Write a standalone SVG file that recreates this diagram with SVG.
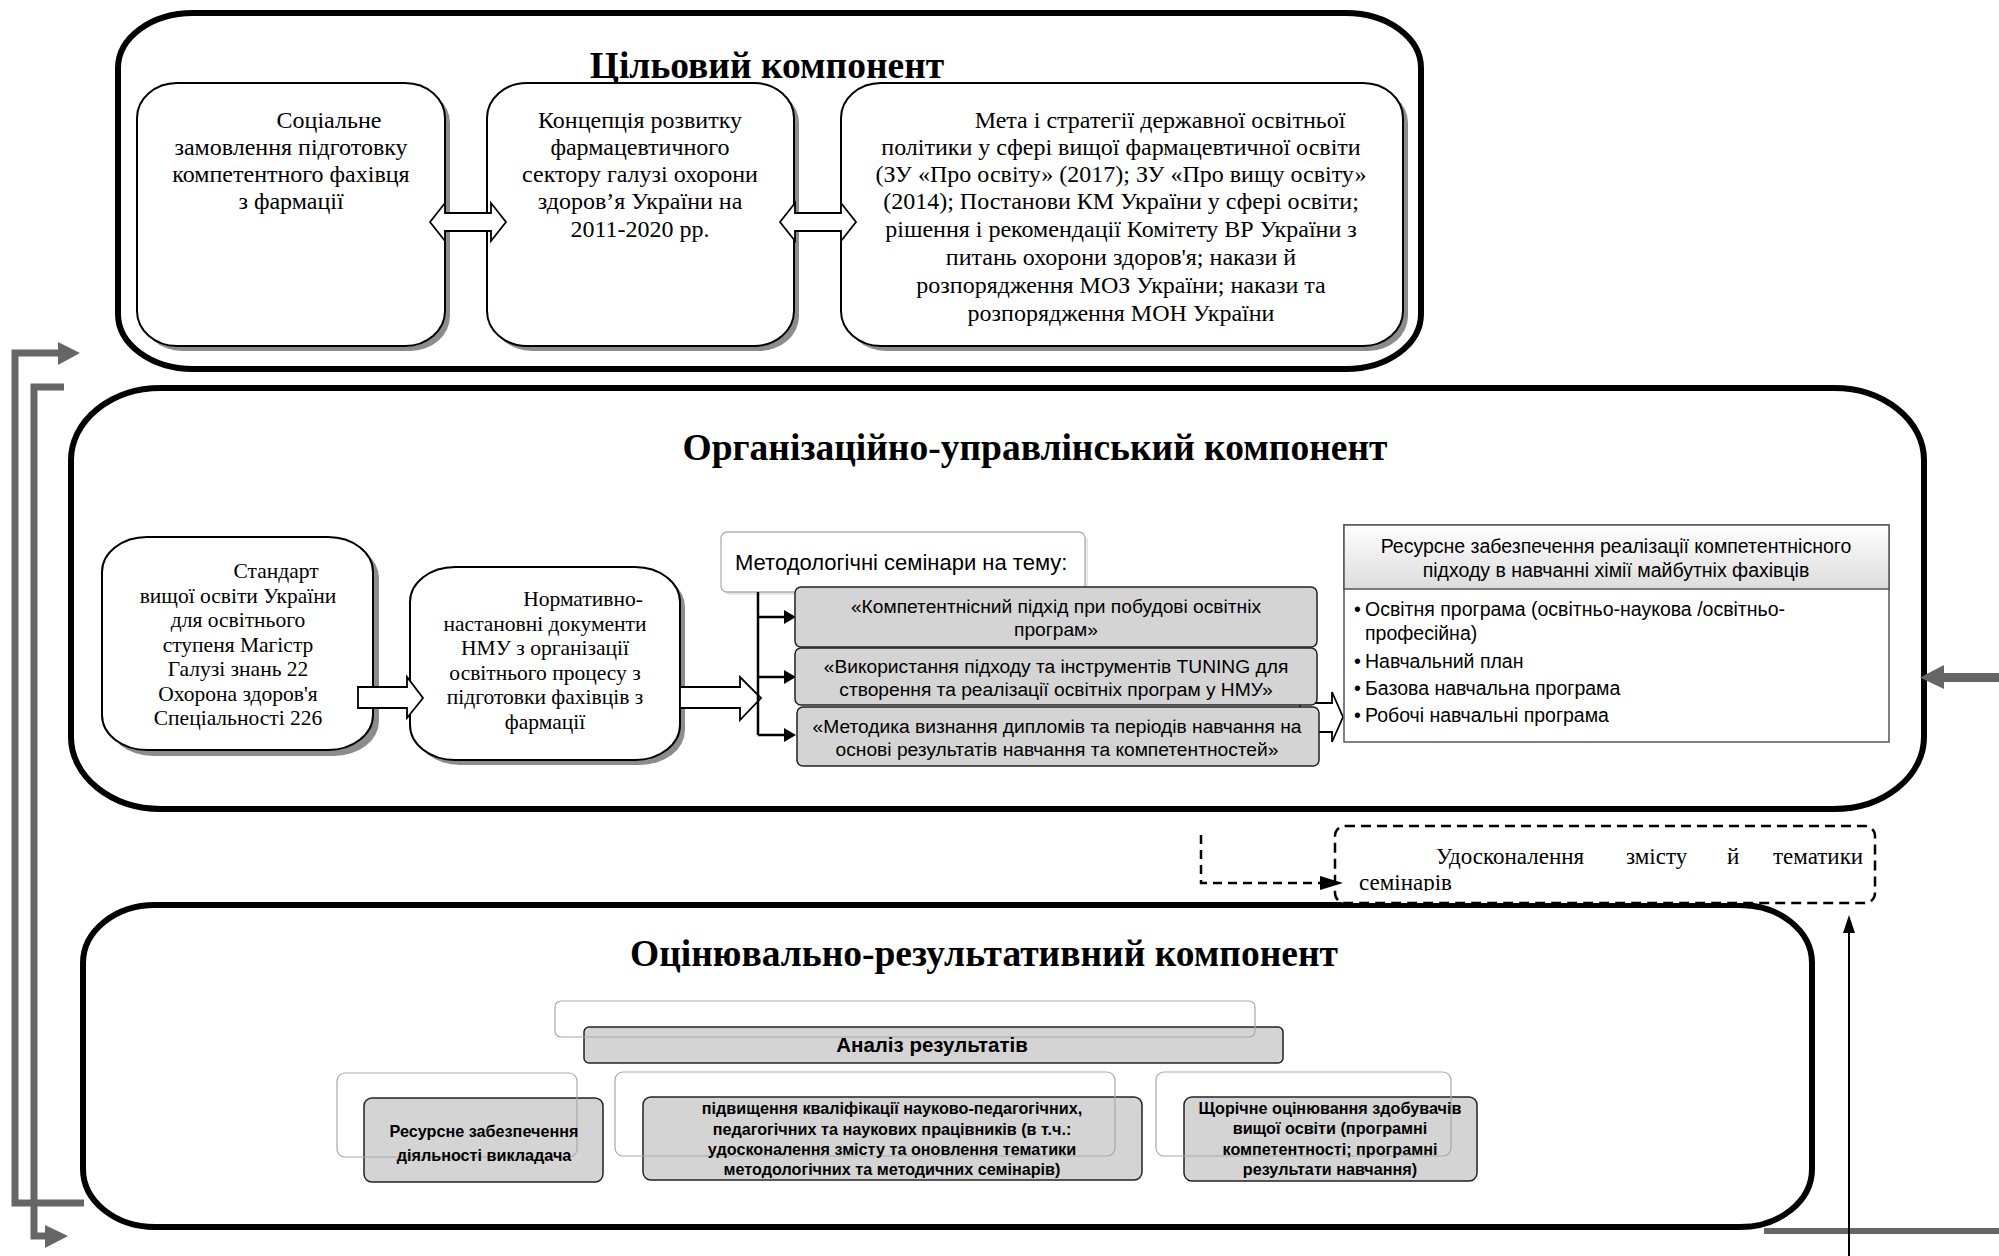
<svg xmlns="http://www.w3.org/2000/svg" width="1999" height="1256" viewBox="0 0 1999 1256">
<defs>
<style>
.big{fill:#fff;stroke:#000;stroke-width:6}
.node{fill:#fff;stroke:#000;stroke-width:2}
.shadow{fill:#8c8c8c}
.serif{font-family:"Liberation Serif","Times New Roman",serif;fill:#000}
.t23{font-size:24px}
.t21{font-size:21.5px}
.title{font-family:"Liberation Serif","Times New Roman",serif;font-weight:bold;font-size:37.5px;text-anchor:middle;fill:#000}
.sans{font-family:"Liberation Sans",Arial,sans-serif;fill:#000}
.s18{font-size:19.2px}
.s195{font-size:19.5px}
.s22{font-size:22px}
.b15{font-size:16.2px;font-weight:bold}
.b18{font-size:20.5px;font-weight:bold}
.mid{text-anchor:middle}
.gray{fill:#d4d4d4;stroke:#222;stroke-width:1.5}
.ghost{fill:none;stroke:#a8a8a8;stroke-width:1.2}
.blk{fill:#fff;stroke:#000;stroke-width:1.8;stroke-linejoin:miter}
.gline{fill:none;stroke:#666;stroke-width:7}
.ghead{fill:#666}
.line{fill:none;stroke:#000;stroke-width:2.5}
.dash{fill:none;stroke:#000;stroke-width:2.5;stroke-dasharray:9 6}
</style>
<linearGradient id="hdr" x1="0" y1="0" x2="0" y2="1">
<stop offset="0" stop-color="#ffffff"/>
<stop offset="1" stop-color="#dcdcdc"/>
</linearGradient>
<clipPath id="clipSem"><rect x="1330" y="820" width="560" height="71"/></clipPath>
</defs>

<!-- Target component -->
<g id="target-component">
<rect class="big" x="118" y="13" width="1303" height="356" rx="75" ry="55"/>
<text class="title" x="767" y="78">Цільовий компонент</text>
</g>

<g id="node-social-order">
<rect class="shadow" x="142" y="88" width="308" height="263" rx="40" ry="35"/>
<rect class="node" x="137" y="83" width="308" height="263" rx="40" ry="35"/>
<text class="serif t23 mid" x="291"><tspan x="329" y="128">Соціальне</tspan><tspan x="291" y="155">замовлення підготовку</tspan><tspan x="291" y="182">компетентного фахівця</tspan><tspan x="291" y="209">з фармації</tspan></text>
</g>

<g id="node-concept">
<rect class="shadow" x="492" y="88" width="307" height="263" rx="40" ry="35"/>
<rect class="node" x="487" y="83" width="307" height="263" rx="40" ry="35"/>
<text class="serif t23 mid" x="640"><tspan x="640" y="128">Концепція розвитку</tspan><tspan x="640" y="155">фармацевтичного</tspan><tspan x="640" y="182">сектору галузі охорони</tspan><tspan x="640" y="209">здоров’я України на</tspan><tspan x="640" y="237">2011-2020 рр.</tspan></text>
</g>

<g id="node-policy">
<rect class="shadow" x="846" y="88" width="562" height="263" rx="40" ry="35"/>
<rect class="node" x="841" y="83" width="562" height="263" rx="40" ry="35"/>
<text class="serif t23 mid" x="1121"><tspan x="1160" y="128">Мета і стратегії державної освітньої</tspan><tspan x="1121" y="155">політики у сфері вищої фармацевтичної освіти</tspan><tspan x="1121" y="182">(ЗУ «Про освіту» (2017); ЗУ «Про вищу освіту»</tspan><tspan x="1121" y="209">(2014); Постанови КМ України у сфері освіти;</tspan><tspan x="1121" y="237">рішення і рекомендації Комітету ВР України з</tspan><tspan x="1121" y="265">питань охорони здоров'я; накази й</tspan><tspan x="1121" y="293">розпорядження МОЗ України; накази та</tspan><tspan x="1121" y="321">розпорядження МОН України</tspan></text>
</g>

<!-- Organisational component -->
<g id="org-component">
<rect class="big" x="71" y="388" width="1853" height="421" rx="90" ry="72"/>
<text class="title" x="1035" y="460">Організаційно-управлінський компонент</text>
</g>

<g id="node-standard">
<rect class="shadow" x="108" y="543" width="271" height="213" rx="45" ry="35"/>
<rect class="node" x="102" y="537" width="271" height="213" rx="45" ry="35"/>
<text class="serif t21 mid" x="238"><tspan x="276" y="578">Стандарт</tspan><tspan x="238" y="602.5">вищої освіти України</tspan><tspan x="238" y="627">для освітнього</tspan><tspan x="238" y="651.5">ступеня Магістр</tspan><tspan x="238" y="676">Галузі знань 22</tspan><tspan x="238" y="700.5">Охорона здоров'я</tspan><tspan x="238" y="725">Спеціальності 226</tspan></text>
</g>

<g id="node-normative">
<rect class="shadow" x="415" y="572" width="270" height="193" rx="45" ry="35"/>
<rect class="node" x="410" y="567" width="270" height="193" rx="45" ry="35"/>
<text class="serif t21 mid" x="545"><tspan x="583" y="606">Нормативно-</tspan><tspan x="545" y="630.5">настановні документи</tspan><tspan x="545" y="655">НМУ з організації</tspan><tspan x="545" y="679.5">освітнього процесу з</tspan><tspan x="545" y="704">підготовки фахівців з</tspan><tspan x="545" y="728.5">фармації</tspan></text>
</g>

<g id="node-seminars-header">
<rect x="724" y="535" width="364" height="60" rx="6" fill="#e6e6e6"/>
<rect x="721" y="532" width="364" height="60" rx="6" fill="#fff" stroke="#b0b0b0" stroke-width="1.3"/>
<text class="sans s22" x="735" y="570">Методологічні семінари на тему:</text>
</g>

<!-- connectors -->
<g id="connectors">
<polygon class="blk" points="430,222 445,203 445,213 491,213 491,203 506,222 491,241 491,231 445,231 445,241"/>
<polygon class="blk" points="780,222 795,203 795,213 841,213 841,203 856,222 841,241 841,231 795,231 795,241"/>
<polygon class="blk" points="358,687 407,687 407,677 423,698 407,718 407,708 358,708"/>
<polygon class="blk" points="680,687 740,687 740,677 761,698 740,720 740,708 680,708"/>
<polygon class="blk" points="1300,703 1332,703 1332,692 1343,717 1332,742 1332,732 1300,732"/>
<path class="line" d="M758 592 V735 M758 617 H785 M758 677 H785 M758 735 H785" stroke-width="2.2"/>
<polygon points="784,610 796,617 784,624" fill="#000"/>
<polygon points="784,670 796,677 784,684" fill="#000"/>
<polygon points="784,728 796,735 784,742" fill="#000"/>
<path class="gline" d="M84 1203 H15 V353 H60"/>
<polygon class="ghead" points="58,342 80,353 58,365"/>
<path class="gline" d="M64 387 H34 V1236 H47"/>
<polygon class="ghead" points="45,1225 68,1236 45,1248"/>
<path d="M1999 677.5 H1940" stroke="#666" stroke-width="9" fill="none"/>
<polygon class="ghead" points="1944,665 1920,677.5 1944,689"/>
<path d="M1764 1231 H1999" stroke="#666" stroke-width="6" fill="none"/>
<path d="M1849 1256 V930" stroke="#000" stroke-width="2" fill="none"/>
<polygon points="1843,933 1849,915 1855,933" fill="#000"/>
<path class="line" d="M584 1052 H456 V1073 M865 1063 V1073 M1283 1050 H1304 V1072"/>
</g>

<g id="node-seminar-1">
<rect class="gray" x="795" y="587" width="522" height="60" rx="6"/>
<text class="sans s18 mid"><tspan x="1056" y="613">«Компетентнісний підхід при побудові освітніх</tspan><tspan x="1056" y="636">програм»</tspan></text>
</g>
<g id="node-seminar-2">
<rect class="gray" x="795" y="648" width="522" height="57" rx="6"/>
<text class="sans s18 mid"><tspan x="1056" y="673">«Використання підходу та інструментів TUNING для</tspan><tspan x="1056" y="696">створення та реалізації освітніх програм у НМУ»</tspan></text>
</g>
<g id="node-seminar-3">
<rect class="gray" x="797" y="707" width="522" height="59" rx="6"/>
<text class="sans s18 mid"><tspan x="1057" y="733">«Методика визнання дипломів та періодів навчання на</tspan><tspan x="1057" y="756">основі результатів навчання та компетентностей»</tspan></text>
</g>

<g id="node-resources">
<rect x="1344" y="525" width="545" height="217" fill="#fff" stroke="#555" stroke-width="1.5"/>
<rect x="1344" y="525" width="545" height="64" fill="url(#hdr)" stroke="#555" stroke-width="1.5"/>
<text class="sans s195 mid"><tspan x="1616" y="553">Ресурсне забезпечення реалізації компетентнісного</tspan><tspan x="1616" y="577">підходу в навчанні хімії майбутніх фахівців</tspan></text>
<text class="sans s195"><tspan x="1354" y="616">•</tspan><tspan x="1365" y="616">Освітня програма (освітньо-наукова /освітньо-</tspan><tspan x="1365" y="640">професійна)</tspan><tspan x="1354" y="668">•</tspan><tspan x="1365" y="668">Навчальний план</tspan><tspan x="1354" y="695">•</tspan><tspan x="1365" y="695">Базова навчальна програма</tspan><tspan x="1354" y="722">•</tspan><tspan x="1365" y="722">Робочі навчальні програма</tspan></text>
</g>

<!-- Evaluation component -->
<g id="eval-component">
<rect class="big" x="83" y="905" width="1729" height="322" rx="72" ry="58"/>
<text class="title" x="984" y="966">Оцінювально-результативний компонент</text>
</g>

<g id="node-improvement">
<rect x="1335" y="826" width="540" height="77" rx="10" fill="#fff" stroke="#000" stroke-width="2.5" stroke-dasharray="10 6"/>
<g clip-path="url(#clipSem)">
<text class="serif" font-size="23"><tspan x="1436" y="864">Удосконалення</tspan><tspan x="1626" y="864">змісту</tspan><tspan x="1727" y="864">й</tspan><tspan x="1773" y="864">тематики</tspan><tspan x="1359" y="890">семінарів</tspan></text>
</g>
</g>
<g id="dashed-connector">
<path class="dash" d="M1201 835 V883 H1322" stroke-width="2.2" stroke-dasharray="8 5"/>
<polygon points="1320,876 1343,883 1320,890" fill="#000"/>
</g>

<g id="node-analysis">
<rect class="gray" x="584" y="1027" width="699" height="36" rx="5"/>
<rect class="ghost" x="555" y="1001" width="700" height="36" rx="6"/>
<text class="sans b18 mid" x="932" y="1052">Аналіз результатів</text>
</g>
<g id="node-teacher-resources">
<rect class="gray" x="364" y="1098" width="239" height="84" rx="8"/>
<rect class="ghost" x="337" y="1073" width="240" height="84" rx="8"/>
<text class="sans b15 mid"><tspan x="484" y="1137">Ресурсне забезпечення</tspan><tspan x="484" y="1161">діяльності викладача</tspan></text>
</g>
<g id="node-qualification">
<rect class="gray" x="643" y="1097" width="499" height="83" rx="8"/>
<rect class="ghost" x="615" y="1072" width="500" height="84" rx="8"/>
<text class="sans b15 mid"><tspan x="892" y="1114">підвищення кваліфікації науково-педагогічних,</tspan><tspan x="892" y="1135">педагогічних та наукових працівників (в т.ч.:</tspan><tspan x="892" y="1155">удосконалення змісту та оновлення тематики</tspan><tspan x="892" y="1175">методологічних та методичних семінарів)</tspan></text>
</g>
<g id="node-annual-assessment">
<rect class="gray" x="1184" y="1097" width="293" height="84" rx="8"/>
<rect class="ghost" x="1156" y="1072" width="295" height="84" rx="8"/>
<text class="sans b15 mid"><tspan x="1330" y="1114">Щорічне оцінювання здобувачів</tspan><tspan x="1330" y="1134">вищої освіти (програмні</tspan><tspan x="1330" y="1155">компетентності; програмні</tspan><tspan x="1330" y="1175">результати навчання)</tspan></text>
</g>
</svg>
